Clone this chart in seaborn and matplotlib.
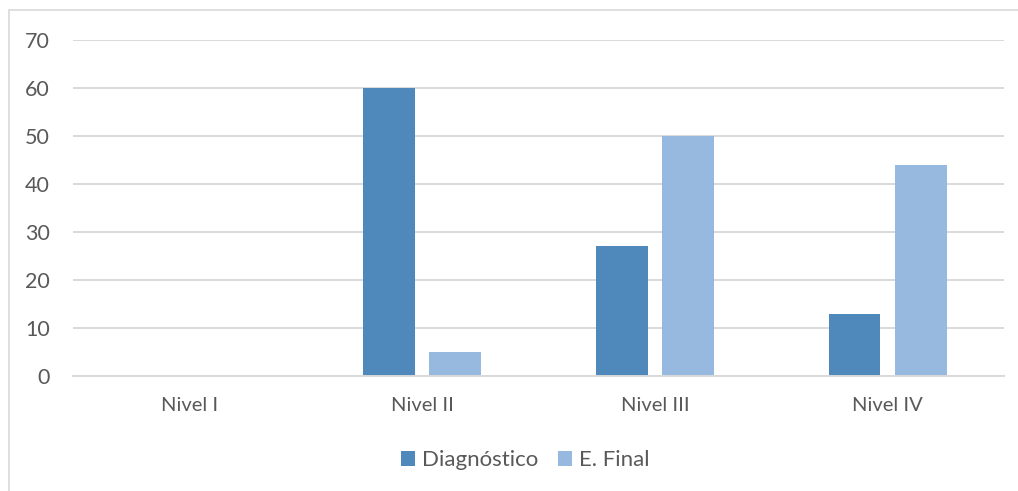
import matplotlib
matplotlib.use("Agg")
import matplotlib.pyplot as plt
from matplotlib.patches import Rectangle
import seaborn as sns
import pandas as pd

categories = ["Nivel I", "Nivel II", "Nivel III", "Nivel IV"]
diagnostico = [0, 60, 27, 13]
e_final = [0, 5, 50, 44]
series_names = ["Diagnóstico", "E. Final"]
colors = ["#4F88BB", "#97B8DF"]

df = pd.DataFrame({
    "Nivel": categories * 2,
    "Serie": [series_names[0]] * 4 + [series_names[1]] * 4,
    "Valor": diagnostico + e_final,
})

sns.set_theme(style="white")
plt.rcParams["font.family"] = ["Lato", "DejaVu Sans"]

fig = plt.figure(figsize=(10.18, 4.91), dpi=100)
ax = fig.add_axes([0.0717, 0.2342, 0.9145, 0.6843])

sns.barplot(data=df, x="Nivel", y="Valor", hue="Serie", order=categories,
            hue_order=series_names, palette=colors, width=0.57, gap=0.22,
            saturation=1, ax=ax, edgecolor="none", linewidth=0, legend=True)

ax.set_xlim(-0.5, 3.5)
ax.set_ylim(0, 70)
ax.set_yticks(range(0, 71, 10))
ax.yaxis.grid(True, color="#D9D9D9", linewidth=1.4)
ax.set_axisbelow(True)
for s in ["top", "right", "left"]:
    ax.spines[s].set_visible(False)
ax.spines["bottom"].set_color("#D9D9D9")
ax.spines["bottom"].set_linewidth(1.4)
ax.tick_params(axis="y", length=0, pad=16.5, labelsize=15.5, labelcolor="#595959")
ax.tick_params(axis="x", length=0, pad=15, labelsize=14.5, labelcolor="#595959")
ax.set_xlabel("")
ax.set_ylabel("")

handles, labels = ax.get_legend_handles_labels()
ax.legend(handles, labels, loc="center", bbox_to_anchor=(0.516, 0.063),
          bbox_transform=fig.transFigure, ncol=2, frameon=False,
          fontsize=16, handlelength=0.63, handleheight=0.63,
          handletextpad=0.3, columnspacing=0.9, labelcolor="#595959")

fig.patches.append(Rectangle((9 / 1018, -0.2), 1.2, 1.2 - 10 / 491,
                             transform=fig.transFigure, fill=False,
                             edgecolor="#D9D9D9", linewidth=1.2))

fig.savefig("out.png", dpi=100)
